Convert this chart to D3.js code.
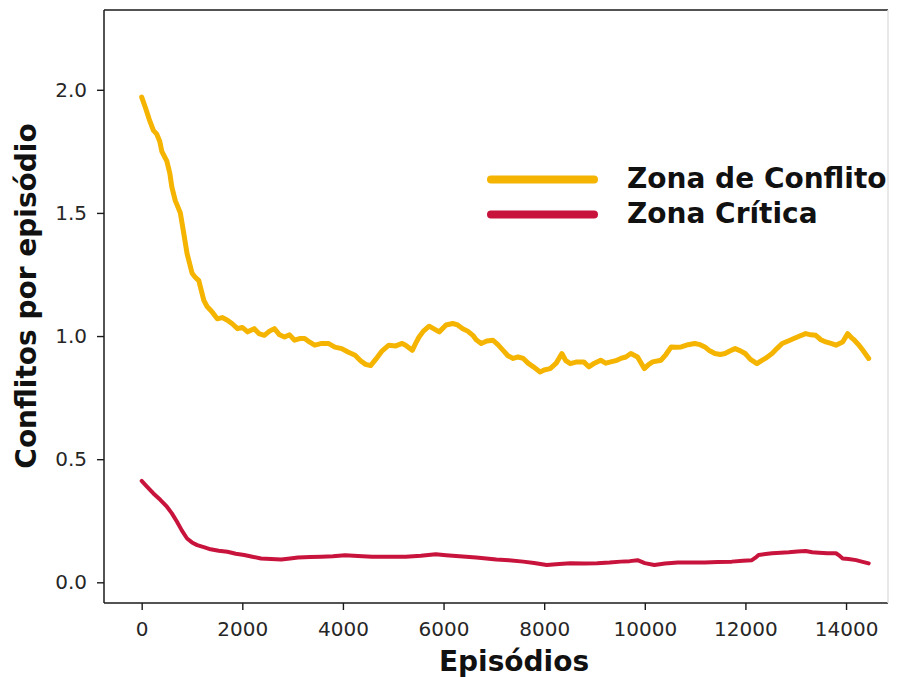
<!DOCTYPE html>
<html>
<head>
<meta charset="utf-8">
<script src="https://cdn.jsdelivr.net/npm/d3@7"></script>
<style>
  body { margin: 0; background: #fff; }
  svg { display: block; }
</style>
</head>
<body>
<svg id="chart" width="901" height="677"></svg>
<script>
// Rolling mean of conflicts per episode, [episode, value]
const conflictZone = [
  [0,1.97],[70,1.93],[150,1.88],[233,1.835],[300,1.82],[360,1.79],[400,1.75],[500,1.71],
  [560,1.66],[600,1.605],[668,1.55],[768,1.50],[834,1.42],[902,1.335],[1002,1.255],[1060,1.24],
  [1135,1.225],[1235,1.145],[1300,1.12],[1369,1.105],[1430,1.09],[1503,1.07],[1600,1.075],[1704,1.064],
  [1800,1.05],[1905,1.03],[2000,1.035],[2105,1.017],[2237,1.03],[2330,1.01],[2438,1.003],[2540,1.02],
  [2638,1.03],[2740,1.005],[2839,0.996],[2940,1.005],[3039,0.983],[3140,0.99],[3240,0.99],[3340,0.975],
  [3440,0.963],[3580,0.97],[3709,0.97],[3840,0.955],[3975,0.949],[4100,0.935],[4242,0.922],[4350,0.90],
  [4450,0.885],[4550,0.88],[4650,0.905],[4780,0.94],[4912,0.963],[5050,0.96],[5178,0.97],[5245,0.963],
  [5379,0.942],[5445,0.97],[5513,0.996],[5600,1.02],[5714,1.04],[5800,1.03],[5914,1.017],[6050,1.045],
  [6181,1.051],[6280,1.045],[6381,1.03],[6480,1.02],[6582,1.003],[6648,0.985],[6748,0.97],[6860,0.98],
  [6983,0.983],[7080,0.965],[7184,0.942],[7280,0.92],[7384,0.909],[7480,0.915],[7585,0.909],[7680,0.89],
  [7785,0.875],[7919,0.854],[8000,0.862],[8119,0.868],[8240,0.89],[8352,0.929],[8430,0.90],[8520,0.888],
  [8650,0.895],[8787,0.895],[8887,0.875],[9000,0.89],[9122,0.902],[9222,0.89],[9322,0.895],[9423,0.90],
  [9523,0.909],[9623,0.915],[9723,0.929],[9856,0.915],[9990,0.868],[10080,0.885],[10157,0.895],[10324,0.902],
  [10420,0.925],[10525,0.956],[10626,0.955],[10726,0.956],[10860,0.965],[10992,0.97],[11100,0.965],[11193,0.956],
  [11290,0.94],[11393,0.929],[11500,0.925],[11594,0.929],[11700,0.94],[11795,0.949],[11900,0.94],[11995,0.929],
  [12100,0.905],[12229,0.888],[12320,0.90],[12396,0.909],[12530,0.929],[12630,0.95],[12731,0.97],[12850,0.98],
  [12963,0.99],[13080,1.0],[13197,1.01],[13300,1.005],[13398,1.003],[13500,0.985],[13598,0.976],[13700,0.97],
  [13799,0.963],[13870,0.97],[13933,0.976],[14033,1.01],[14100,0.995],[14166,0.983],[14250,0.965],[14334,0.942],
  [14450,0.909]
];

const criticalZone = [
  [0,0.412],[100,0.39],[233,0.361],[370,0.335],[501,0.307],[600,0.28],[702,0.246],[800,0.21],
  [902,0.178],[1000,0.162],[1103,0.151],[1250,0.142],[1369,0.134],[1530,0.128],[1704,0.124],[1870,0.116],
  [2037,0.111],[2200,0.104],[2372,0.097],[2570,0.095],[2773,0.093],[2950,0.097],[3107,0.101],[3350,0.103],
  [3575,0.104],[3800,0.106],[4042,0.110],[4300,0.107],[4577,0.104],[4900,0.104],[5245,0.104],[5550,0.108],
  [5846,0.114],[6050,0.110],[6247,0.107],[6450,0.104],[6648,0.101],[6850,0.097],[7049,0.093],[7300,0.090],
  [7584,0.084],[7800,0.078],[8051,0.070],[8300,0.074],[8520,0.077],[8800,0.076],[9053,0.077],[9300,0.080],
  [9523,0.084],[9700,0.086],[9856,0.090],[10000,0.078],[10190,0.070],[10400,0.076],[10657,0.080],[10900,0.080],
  [11193,0.080],[11450,0.082],[11728,0.084],[11950,0.088],[12129,0.090],[12200,0.100],[12262,0.111],[12400,0.115],
  [12530,0.118],[12700,0.120],[12863,0.122],[13030,0.125],[13197,0.127],[13330,0.122],[13464,0.120],[13630,0.118],
  [13799,0.118],[13870,0.108],[13933,0.097],[14050,0.095],[14200,0.090],[14330,0.083],[14450,0.077]
];

const xTicks = [0, 2000, 4000, 6000, 8000, 10000, 12000, 14000];
const yTicks = [0.0, 0.5, 1.0, 1.5, 2.0];
const seriesNames = ["Zona de Conflito", "Zona Crítica"];
const seriesColors = ["#F4B400", "#C8143C"];

const svg = d3.select("#chart");
const frame = { left: 104, right: 888, top: 10, bottom: 603 };

const x = d3.scaleLinear().domain([-749, 14834]).range([frame.left, frame.right]);
const y = d3.scaleLinear().domain([-0.084, 2.324]).range([frame.bottom, frame.top]);

const font = "DejaVu Sans, sans-serif";

// x axis
const xAxis = svg.append("g")
  .attr("transform", `translate(0,${frame.bottom})`)
  .call(d3.axisBottom(x).tickValues(xTicks).tickFormat(d3.format("d")).tickSize(7).tickPadding(12));
// y axis
const yAxis = svg.append("g")
  .attr("transform", `translate(${frame.left},0)`)
  .call(d3.axisLeft(y).tickValues(yTicks).tickFormat(d3.format(".1f")).tickSize(7).tickPadding(10));

[xAxis, yAxis].forEach(g => {
  g.select(".domain").remove();
  g.selectAll(".tick line").attr("stroke", "#1a1a1a").attr("stroke-width", 1.4);
  g.selectAll(".tick text")
    .attr("fill", "#262626")
    .style("font-family", font)
    .style("font-size", "20px");
});

// plot frame: left, bottom and top spines dark, right spine faint
const spine = (x1, y1, x2, y2, color) => svg.append("line")
  .attr("x1", x1).attr("y1", y1).attr("x2", x2).attr("y2", y2)
  .attr("stroke", color).attr("stroke-width", 1.5);
spine(frame.left, frame.top, frame.right, frame.top, "#1a1a1a");
spine(frame.left, frame.bottom, frame.right, frame.bottom, "#1a1a1a");
spine(frame.left, frame.top, frame.left, frame.bottom, "#1a1a1a");
spine(frame.right, frame.top, frame.right, frame.bottom, "#e2e2e2");

// series lines
const line = d3.line().x(d => x(d[0])).y(d => y(d[1]));
svg.append("path").datum(conflictZone)
  .attr("d", line).attr("fill", "none")
  .attr("stroke", seriesColors[0]).attr("stroke-width", 5)
  .attr("stroke-linejoin", "round").attr("stroke-linecap", "round");
svg.append("path").datum(criticalZone)
  .attr("d", line).attr("fill", "none")
  .attr("stroke", seriesColors[1]).attr("stroke-width", 4)
  .attr("stroke-linejoin", "round").attr("stroke-linecap", "round");

// axis titles
svg.append("text")
  .attr("x", 514).attr("y", 671)
  .attr("text-anchor", "middle")
  .style("font-family", font).style("font-weight", "bold").style("font-size", "28px")
  .attr("fill", "#111")
  .text("Episódios");
svg.append("text")
  .attr("transform", "translate(36,296) rotate(-90)")
  .attr("text-anchor", "middle")
  .style("font-family", font).style("font-weight", "bold").style("font-size", "28px")
  .attr("fill", "#111")
  .text("Conflitos por episódio");

// legend
const legend = svg.append("g");
seriesNames.forEach((name, i) => {
  const ly = [179.5, 214.5][i];
  legend.append("line")
    .attr("x1", 491).attr("x2", 594).attr("y1", ly).attr("y2", ly)
    .attr("stroke", seriesColors[i]).attr("stroke-width", 8).attr("stroke-linecap", "round");
  legend.append("text")
    .attr("x", 627).attr("y", ly + 8.5)
    .style("font-family", font).style("font-weight", "bold").style("font-size", "28px")
    .attr("fill", "#111")
    .text(name);
});
</script>
</body>
</html>
